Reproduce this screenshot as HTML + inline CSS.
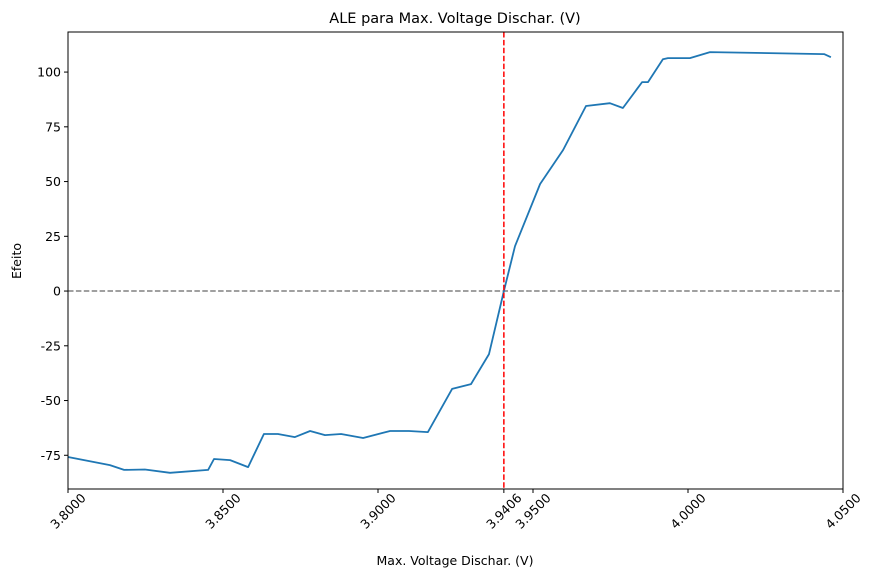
<!DOCTYPE html>
<html><head><meta charset="utf-8"><style>
body{margin:0;background:#fff}
svg{display:block;font-family:"DejaVu Sans","Liberation Sans",sans-serif}
</style></head><body>
<svg id="chart" width="875" height="577" xmlns="http://www.w3.org/2000/svg">
<text x="455" y="23" text-anchor="middle" font-size="14.5">ALE para Max. Voltage Dischar. (V)</text>
<text x="455" y="565" text-anchor="middle" font-size="12.5">Max. Voltage Dischar. (V)</text>
<text transform="translate(21,261) rotate(-90)" text-anchor="middle" font-size="12.5">Efeito</text>
<g id="axes"></g>
</svg>
<script>
const xs = [3.8000,3.8135,3.8181,3.8248,3.8329,3.8452,3.8471,3.8523,3.8581,3.8632,3.8677,3.8732,3.8781,3.8829,3.8881,3.8952,3.9039,3.9100,3.9161,3.9239,3.9300,3.9358,3.9406,3.9442,3.9523,3.9597,3.9671,3.9748,3.9790,3.9852,3.9871,3.9919,3.9935,4.0006,4.0071,4.0439,4.0461];
const ys = [-75.8,-79.5,-81.7,-81.5,-83.0,-81.7,-76.7,-77.2,-80.4,-65.3,-65.3,-66.7,-63.9,-65.8,-65.3,-67.1,-63.9,-63.9,-64.4,-44.7,-42.5,-28.8,0,20.5,48.9,64.4,84.5,85.8,83.6,95.4,95.4,105.9,106.4,106.4,109.1,108.2,106.8];
const xTicks = [3.80,3.85,3.90,3.9406,3.95,4.00,4.05];
const xTickLabels = ["3.8000","3.8500","3.9000","3.9406","3.9500","4.0000","4.0500"];
const yTicks = [-75,-50,-25,0,25,50,75,100];
const refX = 3.9406;

const L=68,R=843,T=32,B=489;
const xMin=3.80,xMax=4.05,yMin=-90.4,yMax=118.3;
const sx=v=>L+(v-xMin)/(xMax-xMin)*(R-L);
const sy=v=>B-(v-yMin)/(yMax-yMin)*(B-T);
const NS="http://www.w3.org/2000/svg";
const g=document.getElementById('axes');
function mk(t,a){const e=document.createElementNS(NS,t);for(const k in a)e.setAttribute(k,a[k]);g.appendChild(e);return e;}

const zero=mk('line',{x1:L,x2:R,y1:sy(0),y2:sy(0),stroke:'#808080','stroke-width':1.5,'stroke-dasharray':'5.5,2.4'});



const pts=xs.map((x,i)=>sx(x).toFixed(1)+','+sy(ys[i]).toFixed(1)).join(' ');
const line=mk('polyline',{points:pts,fill:'none',stroke:'#1f77b4','stroke-width':1.8,'stroke-linejoin':'round'});



const ref=mk('line',{x1:sx(refX),x2:sx(refX),y1:T,y2:B,stroke:'#ff0000','stroke-width':1.5,'stroke-dasharray':'5.5,2.4'});



const frame=mk('rect',{x:L,y:T,width:R-L,height:B-T,fill:'none',stroke:'#000','stroke-width':1});



xTicks.forEach((v,i)=>{
  const x=sx(v);
  const tk=mk('line',{x1:x,x2:x,y1:B,y2:B+4,stroke:'#000'});
  
  
  const t=mk('text',{transform:`translate(${x},${B+22}) rotate(-45)`,'text-anchor':'middle','dominant-baseline':'central','font-size':12.5});
  t.textContent=xTickLabels[i];
  
  
});
yTicks.forEach(v=>{
  const y=sy(v);
  const tk=mk('line',{x1:L-4,x2:L,y1:y,y2:y,stroke:'#000'});
  
  
  const t=mk('text',{x:L-7,y:y+4.5,'text-anchor':'end','font-size':12.5});
  t.textContent=v;
  
  
});
</script>
</body></html>
